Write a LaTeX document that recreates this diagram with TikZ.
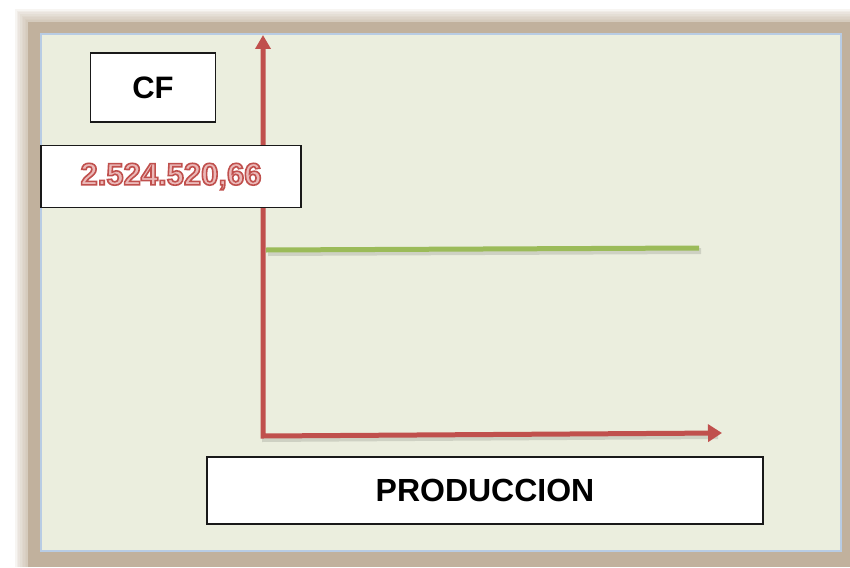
\documentclass[tikz,border=0pt]{standalone}
\usepackage{fontspec}
\setmainfont{Liberation Sans}
\usetikzlibrary{arrows.meta,calc}
\definecolor{framebrown}{HTML}{C1B19D}
\definecolor{panelgreen}{HTML}{EBEEDE}
\definecolor{panelblue}{HTML}{B8CCE4}
\definecolor{axisred}{HTML}{C0504D}
\definecolor{cfgreen}{HTML}{9BBB59}
\definecolor{valuepink}{HTML}{EBB9B8}
\newcommand\redoutline[1]{\special{pdf:literal direct 2 Tr 1.6 w 0.753 0.314 0.302 RG}#1\special{pdf:literal direct 0 Tr}}
\begin{document}
\begin{tikzpicture}[x=1pt,y=-1pt,
	labelbox/.style={draw=black!90, fill=white, line width=1.5pt, inner sep=0pt},
	axisline/.style={axisred, line width=5pt, line join=miter},
	shadowline/.style={black, opacity=.12, line width=6pt, line join=miter}]
	\useasboundingbox (0,0) rectangle (850,567);
	\foreach \i in {1,...,8}
		\fill[framebrown, opacity=.13] (28-1.6*\i,22-1.6*\i) rectangle (850,567);
	\fill[framebrown] (28,22) rectangle (850,567);
	\filldraw[fill=panelgreen, draw=panelblue, line width=1.5pt] (41,34) rectangle (841,551);
	\coordinate (O) at (263,436);
	\coordinate (Y) at (263,35);
	\coordinate (X) at (722,433);
	\coordinate (C1) at (266,250);
	\coordinate (C2) at (699,248);
	\draw[shadowline] ($(C1)+(2,3)$) -- ($(C2)+(2,3)$);
	\draw[cfgreen, line width=5pt] (C1) -- (C2);
	\draw[shadowline] ($(O)+(-1,3)$) -- ($(X)+(-4,3)$);
	\draw[axisline, {Triangle[width=15pt,length=14pt]}-{Triangle[width=17pt,length=14pt]}] (Y) -- (O) -- (X);
	\node[labelbox, minimum width=125, minimum height=69, font=\bfseries\fontsize{31}{36}\selectfont] (cf) at (153,87.5) {CF};
	\node[labelbox, minimum width=260, minimum height=62, text=valuepink, font=\bfseries\fontsize{31}{36}\selectfont] (value) at (171,176.5) {\redoutline{2.524.520,66}};
	\node[labelbox, minimum width=556, minimum height=67, font=\bfseries\fontsize{32}{38}\selectfont] (prod) at (485,490.5) {PRODUCCION};
\end{tikzpicture}
\end{document}
